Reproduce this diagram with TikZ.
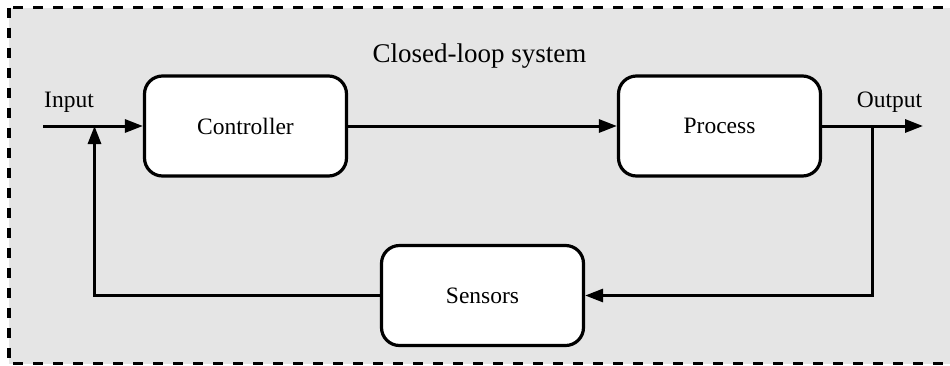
\documentclass[tikz,border=0pt]{standalone}
\usepackage{fontspec}
\setmainfont{Liberation Serif}
\newfontfamily\diagramfont{Liberation Serif}
\usetikzlibrary{arrows.meta}
\definecolor{panelgray}{HTML}{E5E5E5}
\tikzset{
  block/.style={draw, line width=3.2pt, fill=white, rounded corners=18pt,
    minimum width=202pt, minimum height=100pt, inner sep=0pt,
    font=\diagramfont\fontsize{23.5}{28}\selectfont},
  wire/.style={line width=3pt, -{Triangle[length=18pt,width=13pt]}},
  tag/.style={font=\diagramfont\fontsize{23.5}{28}\selectfont, inner sep=0pt, anchor=base},
  heading/.style={font=\diagramfont\fontsize{27}{32}\selectfont, inner sep=0pt, anchor=base},
  frame/.style={draw, fill=panelgray, line width=3.3pt, dash pattern=on 10pt off 10pt}
}
\begin{document}
\begin{tikzpicture}[x=1pt,y=-1pt]
  \useasboundingbox (0,0) rectangle (950,365);
  \clip (0,0) rectangle (950,365);

  % system boundary
  \path[frame] (9,7.7) rectangle (970,363.5);
  \node[heading] (title) at (479.5,62) {Closed-loop system};

  % blocks
  \node[block] (ctrl) at (245.5,126) {Controller};
  \node[block] (proc) at (719.5,126) {Process};
  \node[block] (sens) at (482.5,295.5) {Sensors};

  % signal points
  \coordinate (in)   at (43,126);
  \coordinate (sum)  at (94.5,126);
  \coordinate (out)  at (923,126);
  \coordinate (tap)  at (872.5,126);
  \coordinate (tapd) at (872.5,295.5);
  \coordinate (fbl)  at (94.5,295.5);

  \node[tag] (inlabel)  at (69,107)    {Input};
  \node[tag] (outlabel) at (889.5,107) {Output};

  % forward path
  \draw[wire] (in) -- (ctrl.west);
  \draw[wire] (ctrl.east) -- (proc.west);
  \draw[wire] (proc.east) -- (out);

  % feedback path
  \draw[wire] (tap) -- (tapd) -- (sens.east);
  \draw[wire] (sens.west) -- (fbl) -- (sum);
\end{tikzpicture}
\end{document}
